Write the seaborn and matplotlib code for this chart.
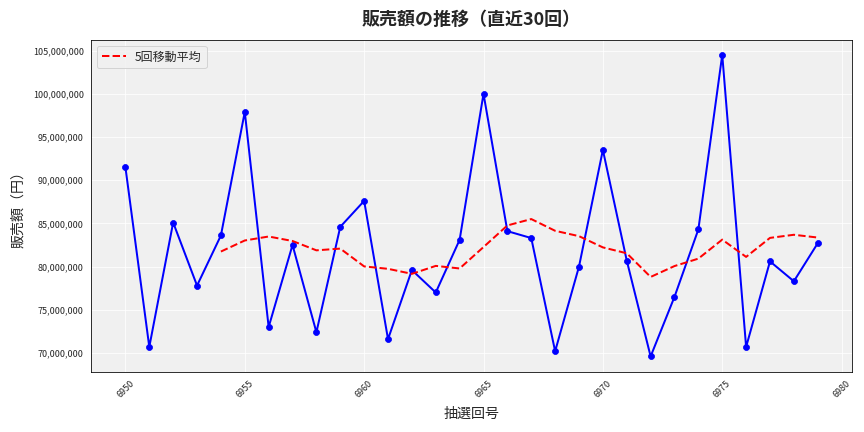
import pandas as pd
import seaborn as sns
import matplotlib.pyplot as plt

sns.set_style('darkgrid', {'axes.facecolor': '#f0f0f0', 'grid.color': 'white'})
plt.rcParams['font.family'] = ['Noto Sans CJK JP', 'DejaVu Sans']

# 抽選回号と販売額（直近30回）
draws = list(range(6950, 6980))
sales = [91.5, 70.7, 85.1, 77.8, 83.6, 97.9, 73.0, 82.5, 72.4, 84.6,
         87.6, 71.6, 79.6, 77.0, 83.1, 100.0, 84.1, 83.3, 70.2, 80.0,
         93.5, 80.7, 69.6, 76.5, 84.3, 104.5, 70.7, 80.6, 78.3, 82.7]

df = pd.DataFrame({'draw': draws, 'sales': [s * 1e6 for s in sales]})
df['ma5'] = df['sales'].rolling(5).mean()

fig, ax = plt.subplots(figsize=(12, 6), dpi=72)
sns.lineplot(data=df, x='draw', y='sales', color='blue', marker='o',
             markersize=6, markeredgecolor='blue', linewidth=2, ax=ax)
sns.lineplot(data=df, x='draw', y='ma5', color='red', linestyle='--',
             linewidth=2, label='5回移動平均', ax=ax)

ax.set_title('販売額の推移（直近30回）', fontsize=18, fontweight='bold', pad=15)
ax.set_xlabel('抽選回号', fontsize=14, labelpad=8)
ax.set_ylabel('販売額（円）', fontsize=14, labelpad=8)
ax.yaxis.set_major_formatter(plt.FuncFormatter(lambda v, p: f'{v:,.0f}'))
ax.tick_params(axis='x', rotation=45, labelsize=9)
ax.tick_params(axis='y', labelsize=9)
ax.legend(loc='upper left', fontsize=12)
for s in ax.spines.values():
    s.set_visible(True)
    s.set_color('black')
    s.set_linewidth(0.8)

plt.tight_layout()
plt.savefig('out.png')
